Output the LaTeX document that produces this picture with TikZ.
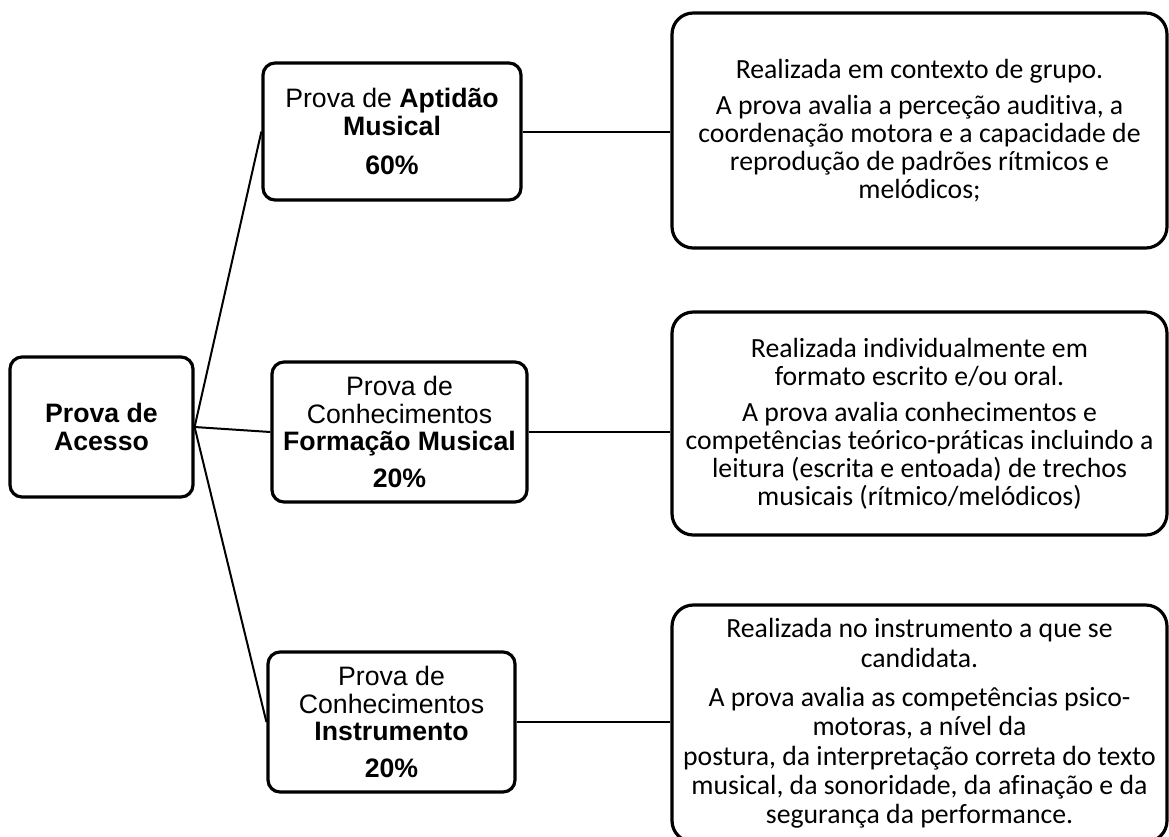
\documentclass[tikz,border=0pt]{standalone}
\usepackage{fontspec}
\setmainfont{Liberation Sans}
\newfontfamily\calibri[Ligatures=NoCommon]{Carlito}

\begin{document}
\begin{tikzpicture}[x=0.75pt, y=-0.75pt,
                    box/.style = {draw, line width=2.4pt, rounded corners=9pt, align=center,
                                  inner sep=2pt, font=\fontsize{20}{20.8}\selectfont},
                    info/.style = {draw, line width=2.4pt, rounded corners=16pt, align=center,
                                   inner sep=2pt, minimum width=371.25pt},
                    link/.style = {line width=1.5pt}]
                    \useasboundingbox (0,0) rectangle (1169,836);

                    % Prova de acesso
                    \node [box, minimum width=137.25pt, minimum height=105pt] (acesso) at (101.5,427)
                        {\textbf{Prova de}\\\textbf{Acesso}};

                    % Provas
                    \node [box, minimum width=193.5pt, minimum height=102.75pt] (aptidao) at (392,131.5)
                        {Prova de \textbf{Aptidão}\\\textbf{Musical}\\[8pt]\textbf{60\%}};
                    \node [box, minimum width=191.25pt, minimum height=105pt] (formacao) at (399.5,432)
                        {Prova de\\Conhecimentos\\\textbf{Formação Musical}\\[7pt]\textbf{20\%}};
                    \node [box, minimum width=185.25pt, minimum height=105pt] (instrumento) at (391.5,722)
                        {Prova de\\Conhecimentos\\\textbf{Instrumento}\\[7pt]\textbf{20\%}};

                    % Descricoes
                    \node [info, minimum height=176.25pt, font=\calibri\fontsize{20.8}{21}\selectfont]
                        (descA) at (919.5,130.5)
                        {Realizada em contexto de grupo.\\[6pt]
                         A prova avalia a perceção auditiva, a\\
                         coordenação motora e a capacidade de\\
                         reprodução de padrões rítmicos e\\
                         melódicos;};
                    \node [info, minimum height=167.25pt, font=\calibri\fontsize{20.8}{21}\selectfont]
                        (descF) at (919.5,423.5)
                        {Realizada individualmente em\\
                         formato escrito e/ou oral.\\[6pt]
                         A prova avalia conhecimentos e\\
                         competências teórico-práticas incluindo a\\
                         leitura (escrita e entoada) de trechos\\
                         musicais (rítmico/melódicos)};
                    \node [info, minimum height=177.75pt, font=\calibri\fontsize{20.8}{22}\selectfont]
                        (descI) at (919.5,723.5)
                        {Realizada no instrumento a que se\\
                         candidata.\\[7.5pt]
                         A prova avalia as competências psico-\\
                         motoras, a nível da\\
                         postura, da interpretação correta do texto\\
                         musical, da sonoridade, da afinação e da\\
                         segurança da performance.};

                    \draw[link] (acesso.east) -- (aptidao.west);
                    \draw[link] (acesso.east) -- (formacao.west);
                    \draw[link] (acesso.east) -- (instrumento.west);

                    \draw[link] (aptidao.east) -- (aptidao.east -| descA.west);
                    \draw[link] (formacao.east) -- (formacao.east -| descF.west);
                    \draw[link] (instrumento.east) -- (instrumento.east -| descI.west);
                \end{tikzpicture}
\end{document}
